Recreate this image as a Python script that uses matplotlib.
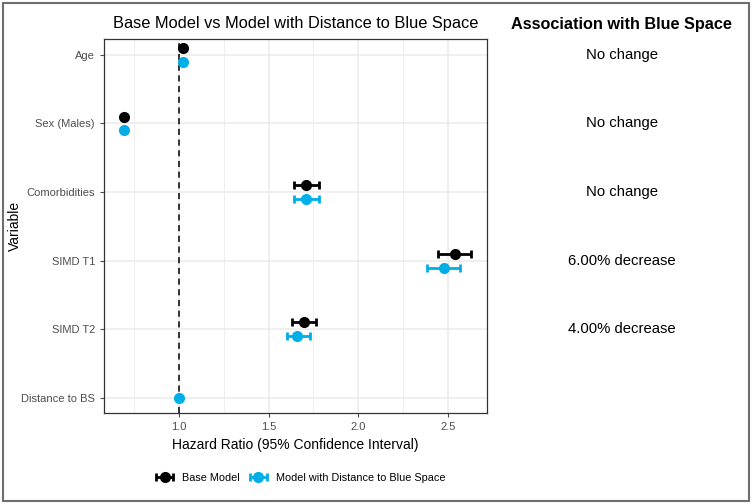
import matplotlib
matplotlib.use("Agg")
import matplotlib.pyplot as plt
import matplotlib.transforms as mtransforms
from matplotlib.patches import Rectangle
from matplotlib.legend_handler import HandlerErrorbar
import numpy as np

plt.rcParams['font.family'] = ['Liberation Sans', 'DejaVu Sans']

variables = ["Age", "Sex (Males)", "Comorbidities", "SIMD T1", "SIMD T2", "Distance to BS"]
base_hr = [1.02, 0.69, 1.71, 2.54, 1.70, np.nan]
base_lo = [1.01, 0.68, 1.64, 2.445, 1.63, np.nan]
base_hi = [1.03, 0.70, 1.78, 2.63, 1.765, np.nan]
blue_hr = [1.02, 0.69, 1.71, 2.48, 1.66, 1.00]
blue_lo = [1.01, 0.68, 1.64, 2.385, 1.60, 0.99]
blue_hi = [1.03, 0.70, 1.78, 2.57, 1.73, 1.01]
association = ["No change", "No change", "No change", "6.00% decrease", "4.00% decrease", ""]

fig = plt.figure(figsize=(7.52, 5.04), dpi=100)
W, H = 752, 504
ax = fig.add_axes([104 / W, 1 - 413 / H, (487 - 104) / W, (413 - 39) / H])

y = np.arange(len(variables))[::-1].astype(float)
off = 0.1

def draw(hr, lo, hi, ypos, color):
    hr, lo, hi = np.array(hr), np.array(lo), np.array(hi)
    return ax.errorbar(hr, ypos, xerr=[hr - lo, hi - hr], fmt='o', color=color,
                       ms=7, elinewidth=2, capsize=2.6, capthick=2, zorder=4)

h1 = draw(base_hr, base_lo, base_hi, y + off, 'black')
# distance to BS has only one model, so no dodge there
blue_y = y - off
blue_y[-1] = y[-1]
h2 = draw(blue_hr, blue_lo, blue_hi, blue_y, '#00aee8')

ax.axvline(1.0, color='black', ls=(0, (4, 3)), lw=1.1, zorder=3)

ax.set_xlim(0.58, 2.72)
ax.set_ylim(y[-1] - 0.22, y[0] + 0.23)
ax.set_xticks([1.0, 1.5, 2.0, 2.5])
ax.set_xticks([0.75, 1.25, 1.75, 2.25], minor=True)
ax.set_yticks(y)
ax.set_yticklabels(variables)
ax.grid(which='major', color='#ebebeb', lw=1.1, zorder=0)
ax.grid(which='minor', axis='x', color='#ebebeb', lw=0.6, zorder=0)
ax.set_axisbelow(True)
ax.tick_params(which='major', labelsize=8, colors='#4d4d4d', length=3, width=0.8)
ax.tick_params(which='minor', length=0)
for s in ax.spines.values():
    s.set_color('#333333')
    s.set_linewidth(0.9)

ax.set_xlabel("Hazard Ratio (95% Confidence Interval)", fontsize=10, labelpad=4)
fig.text(15 / W, 1 - 226 / H, "Variable", rotation=90, ha='center', va='center', fontsize=10)
ax.set_title("Base Model vs Model with Distance to Blue Space", fontsize=11.75, pad=8)

# right side table
fig.text(621 / W, 1 - 25 / H, "Association with Blue Space", ha='center', va='center',
         fontsize=11.7, fontweight='bold')
tr = mtransforms.blended_transform_factory(fig.transFigure, ax.transData)
for yi, txt in zip(y, association):
    ax.text(622 / W, yi, txt, transform=tr, ha='center', va='center', fontsize=10.7, clip_on=False)

fig.legend([h1, h2], ["Base Model", "Model with Distance to Blue Space"], loc='center',
           bbox_to_anchor=(300 / W, 1 - 478 / H), ncol=2, frameon=False, fontsize=7.8,
           handlelength=1.8, columnspacing=0.8, handletextpad=0.7,
           handler_map={type(h1): HandlerErrorbar(xerr_size=0.8)})

fig.add_artist(Rectangle((3 / W, 3 / H), 746 / W, 498 / H, transform=fig.transFigure,
                         fill=False, edgecolor='#6e6e6e', lw=1.5))

fig.savefig("out.png", dpi=100)
